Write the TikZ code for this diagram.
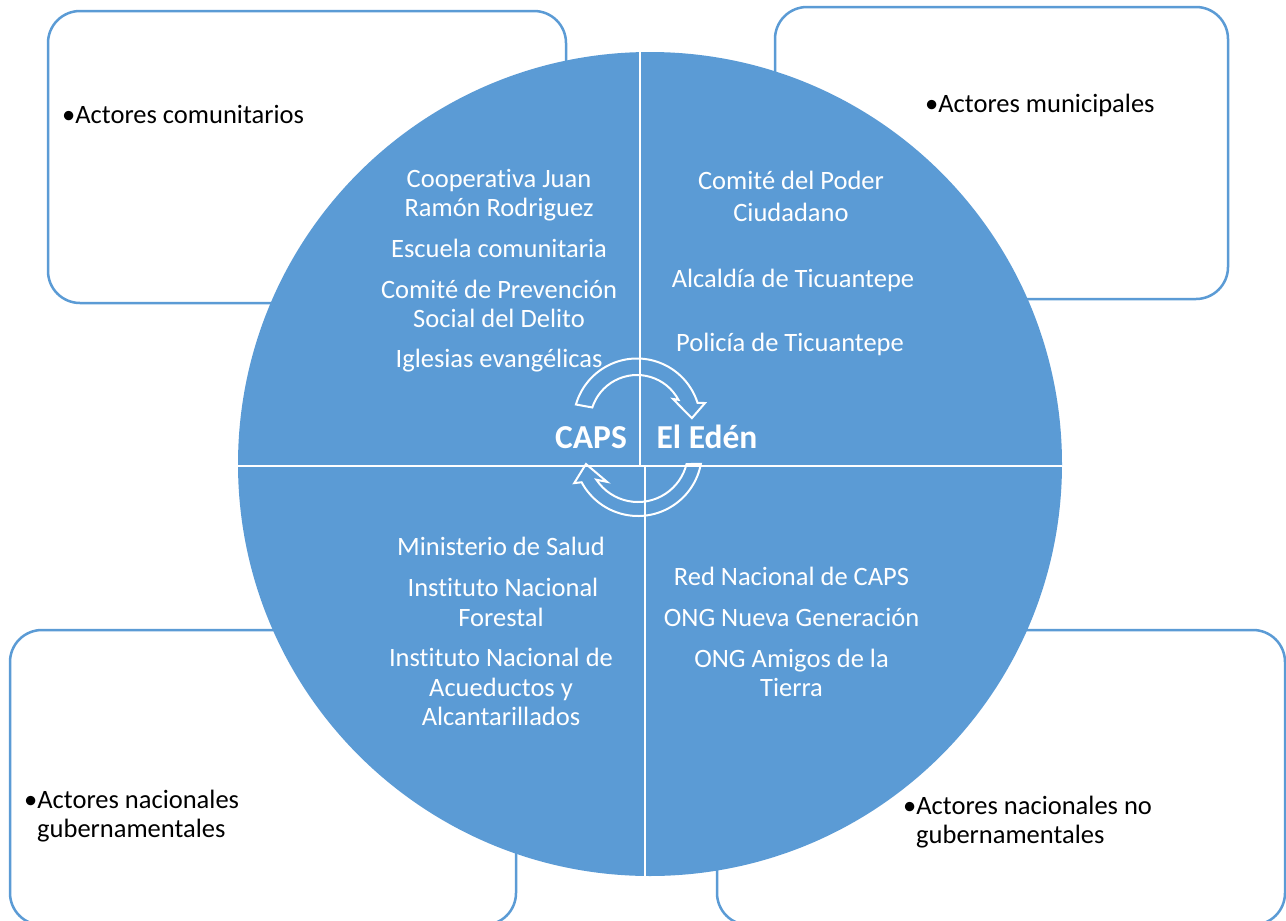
\documentclass[tikz,border=0pt]{standalone}
\usepackage{fontspec}
\setmainfont{Carlito}[Ligatures=NoCommon]
\usetikzlibrary{calc}
\definecolor{capsblue}{RGB}{91,155,213}
\tikzset{
  actorbox/.style={draw=capsblue, line width=2.5pt, fill=white, rounded corners=32pt},
  quadtext/.style={text=white, font=\fontsize{26.5}{29}\selectfont, inner sep=0pt, anchor=base},
  boxtext/.style={text=black, font=\fontsize{26.5}{29}\selectfont, inner sep=0pt, anchor=base west},
  hubtext/.style={text=white, font=\bfseries\fontsize{33.5}{36}\selectfont, inner sep=0pt, anchor=base},
  divider/.style={draw=white, line width=2.5pt},
  cyclearrow/.style={draw=white, line width=2pt, line join=miter},
}
\begin{document}
\begin{tikzpicture}[x=1pt,y=-1pt]
\useasboundingbox (0,0) rectangle (1286,921);

% corner boxes for the four groups of actors
\draw[actorbox] (48,11) rectangle (566,303);
\draw[actorbox] (775,7) rectangle (1228,299);
\draw[actorbox] (10,630) rectangle (516,925);
\draw[actorbox] (717,630) rectangle (1285,925);

% central disc split into quadrants
\fill[capsblue] (650,464) circle[radius=412];
\draw[divider] (640,52) -- (640,466);
\draw[divider] (645,466) -- (645,877);
\draw[divider] (238,466) -- (1062,466);

% cycle arrows around the hub
\coordinate (U) at (637,422);
\coordinate (L) at (638,452);
\draw[cyclearrow] ($(U)+(-164:63.5)$) arc[start angle=-164, end angle=-17.6, radius=63.5]
  -- ($(U)+(-15.6:70.6)$) -- ($(U)+(-4:55)$) -- ($(U)+(-32.6:42.7)$)
  -- ($(U)+(-28.2:47)$) arc[start angle=-28.2, end angle=-162, radius=47] -- cycle;
\draw[cyclearrow] ($(L)+(10.6:64)$) arc[start angle=10.6, end angle=151.8, radius=64]
  -- ($(L)+(154:71)$) -- ($(L)+(167:53.4)$) -- ($(L)+(136:43)$)
  -- ($(L)+(146.3:50)$) arc[start angle=146.3, end angle=14, radius=50] -- cycle;

% hub labels
\node[hubtext] (caps) at (591,448) {CAPS};
\node[hubtext] (eden) at (707,448) {El Edén};

% community actors
\node[quadtext] (coopA) at (499,187) {Cooperativa Juan};
\node[quadtext] (coopB) at (499,216) {Ramón Rodriguez};
\node[quadtext] (escuela) at (499,257) {Escuela comunitaria};
\node[quadtext] (prevA) at (499,298) {Comité de Prevención};
\node[quadtext] (prevB) at (499,327) {Social del Delito};
\node[quadtext] (iglesias) at (499,367) {Iglesias evangélicas};

% municipal actors
\node[quadtext] (poderA) at (791,189) {Comité del Poder};
\node[quadtext] (poderB) at (791,221) {Ciudadano};
\node[quadtext] (alcaldia) at (793,287) {Alcaldía de Ticuantepe};
\node[quadtext] (policia) at (790,351) {Policía de Ticuantepe};

% national governmental actors
\node[quadtext] (minsa) at (501,555) {Ministerio de Salud};
\node[quadtext] (inaforA) at (503,596) {Instituto Nacional};
\node[quadtext] (inaforB) at (501,626) {Forestal};
\node[quadtext] (inaaA) at (501,666) {Instituto Nacional de};
\node[quadtext] (inaaB) at (501,696) {Acueductos y};
\node[quadtext] (inaaC) at (501,725) {Alcantarillados};

% national non-governmental actors
\node[quadtext] (red) at (791.5,585) {Red Nacional de CAPS};
\node[quadtext] (nueva) at (791.5,626) {ONG Nueva Generación};
\node[quadtext] (amigosA) at (791.5,667) {ONG Amigos de la};
\node[quadtext] (amigosB) at (791.5,696) {Tierra};

% box captions
\node[boxtext] (comunit) at (62,123) {•Actores comunitarios};
\node[boxtext] (munic) at (925,112) {•Actores municipales};
\node[boxtext] (gubA) at (24,808) {•Actores nacionales};
\node[boxtext] (gubB) at (37,837) {gubernamentales};
\node[boxtext] (nogubA) at (903,814) {•Actores nacionales no};
\node[boxtext] (nogubB) at (916,843) {gubernamentales};
\end{tikzpicture}
\end{document}
